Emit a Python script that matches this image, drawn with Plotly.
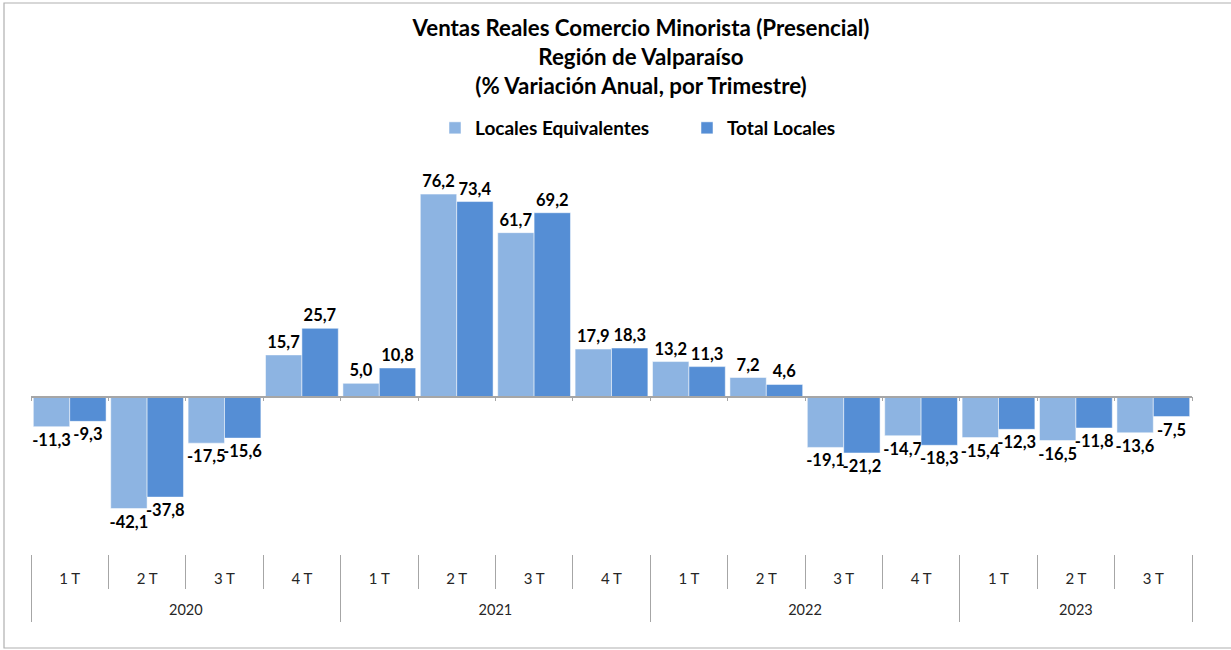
import plotly.graph_objects as go

# ---- data ----
years = ["2020"] * 4 + ["2021"] * 4 + ["2022"] * 4 + ["2023"] * 3
quarters = ["1 T", "2 T", "3 T", "4 T"] * 3 + ["1 T", "2 T", "3 T"]
locales_equivalentes = [-11.3, -42.1, -17.5, 15.7,
                        5.0, 76.2, 61.7, 17.9,
                        13.2, 7.2, -19.1, -14.7,
                        -15.4, -16.5, -13.6]
total_locales = [-9.3, -37.8, -15.6, 25.7,
                 10.8, 73.4, 69.2, 18.3,
                 11.3, 4.6, -21.2, -18.3,
                 -12.3, -11.8, -7.5]
title_lines = ["Ventas Reales Comercio Minorista (Presencial)",
               "Región de Valparaíso",
               "(% Variación Anual, por Trimestre)"]


def fmt(v):
    return f"{v:.1f}".replace(".", ",")


FONT = "Lato"
GRAY = "#A6A6A6"
TXT = "#262626"
W, H = 1231, 650
ML, MR, MT, MB = 31, 39, 150, 96
PW, PH = W - ML - MR, H - MT - MB
YMIN, YMAX = -59.2, 92.8

n = len(quarters)
pos = list(range(n))  # category positions on the axis
quarter_bounds = [i - 0.5 for i in range(n + 1)]
year_names, year_centers, year_bounds = [], [], [-0.5]
start = 0
for i in range(n):
    if i == n - 1 or years[i] != years[i + 1]:
        year_names.append(years[i])
        year_centers.append((start + i) / 2)
        year_bounds.append(i + 0.5)
        start = i + 1

fig = go.Figure()
fig.add_bar(x=pos, y=locales_equivalentes, name="Locales Equivalentes",
            marker=dict(color="#8DB4E2", line=dict(color="white", width=0.5)),
            text=[fmt(v) for v in locales_equivalentes], textposition="outside",
            textfont=dict(family=FONT, size=16.5, color="black", weight="bold"),
            constraintext="none", cliponaxis=False, hoverinfo="y")
fig.add_bar(x=pos, y=total_locales, name="Total Locales",
            marker=dict(color="#558ED5", line=dict(color="white", width=0.5)),
            text=[fmt(v) for v in total_locales], textposition="outside",
            textfont=dict(family=FONT, size=16.5, color="black", weight="bold"),
            constraintext="none", cliponaxis=False, hoverinfo="y")
# helper traces hosting the zero-line axis, separator axes and year-label axis
for ax in ("x2", "x3", "x4", "x5"):
    fig.add_scatter(x=[None], y=[None], xaxis=ax, showlegend=False, hoverinfo="skip")

zero_pos = (0 - YMIN) / (YMAX - YMIN)


def px_x(p):
    return (p - ML) / PW


def px_y(p):
    return (H - MB - p) / PH


common = dict(type="linear", range=[-0.5, n - 0.5], showline=False, showgrid=False,
              zeroline=False, fixedrange=True)
sep_common = dict(overlaying="x", anchor="y", side="bottom", ticks="outside",
                  tickcolor=GRAY, tickwidth=1, showticklabels=False, **common)

fig.update_layout(
    width=W, height=H,
    margin=dict(l=ML, r=MR, t=MT, b=MB),
    paper_bgcolor="white", plot_bgcolor="white",
    barmode="group", bargap=0.06, bargroupgap=0,
    title=dict(text="<br>".join(title_lines), x=641 / W, xanchor="center",
               y=1 - 36 / H, yanchor="top",
               font=dict(family=FONT, size=22.3, color="black", weight="bold")),
    legend=dict(orientation="h", x=px_x(435), xanchor="left", y=px_y(128), yanchor="middle",
                font=dict(family=FONT, size=19, color="black", weight="bold"),
                itemwidth=30, entrywidth=207, bgcolor="rgba(0,0,0,0)"),
    xaxis=dict(tickvals=pos, ticktext=quarters, ticks="outside", ticklen=11,
               tickcolor="rgba(0,0,0,0)", tickfont=dict(family=FONT, size=15, color=TXT),
               **common),
    xaxis5=dict(overlaying="x", anchor="y", side="bottom", tickvals=year_centers,
                ticktext=year_names, ticks="outside", ticklen=43,
                tickcolor="rgba(0,0,0,0)", tickfont=dict(family=FONT, size=14.5, color=TXT),
                **common),
    xaxis2=dict(overlaying="x", anchor="free", position=zero_pos, tickvals=quarter_bounds,
                ticks="outside", ticklen=4, tickcolor=GRAY, showticklabels=False,
                **{**common, "showline": True}, linecolor=GRAY, linewidth=1.5),
    xaxis3=dict(tickvals=quarter_bounds, ticklen=34, **sep_common),
    xaxis4=dict(tickvals=year_bounds, ticklen=67, **sep_common),
    yaxis=dict(visible=False, range=[YMIN, YMAX], showgrid=False, zeroline=False,
               fixedrange=True),
    showlegend=True,
    shapes=[dict(type="rect", xref="paper", yref="paper",
                 x0=px_x(4), x1=px_x(1233), y0=px_y(648), y1=px_y(3),
                 line=dict(color="#B0B0B0", width=1.2), layer="below")],
)

fig.write_html("out.html", config={"displayModeBar": False},
               post_script="document.body.style.margin='0px';")
